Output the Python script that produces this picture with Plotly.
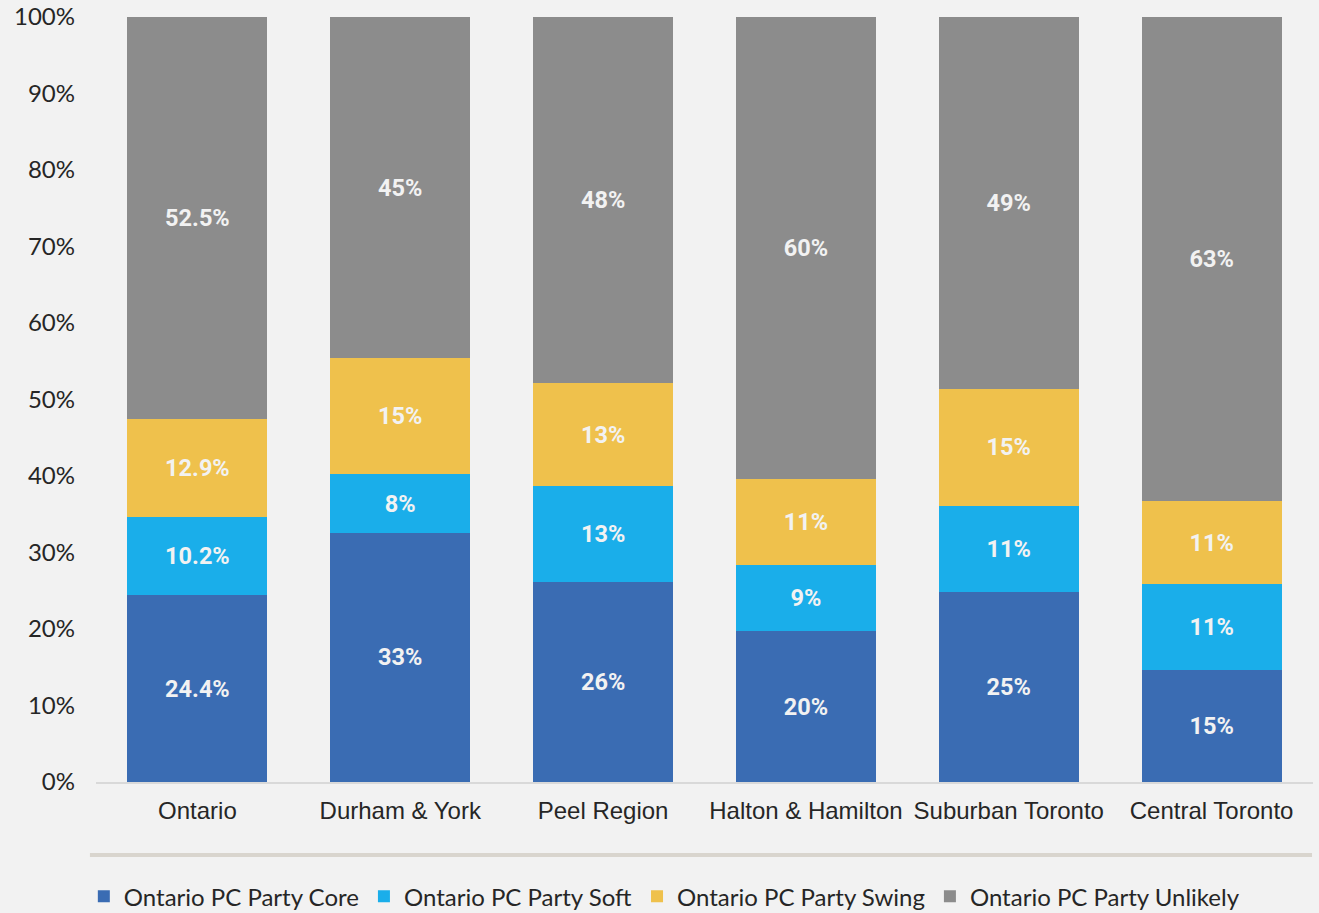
import plotly.graph_objects as go

regions = ["Ontario", "Durham & York", "Peel Region", "Halton & Hamilton",
           "Suburban Toronto", "Central Toronto"]

core = [24.4, 32.6, 26.1, 19.7, 24.8, 14.6]
soft = [10.2, 7.6, 12.6, 8.7, 11.3, 11.3]
swing = [12.9, 15.2, 13.4, 11.2, 15.3, 10.8]
unlikely = [52.5, 44.6, 47.9, 60.4, 48.6, 63.3]

core_lbl = ["24.4%", "33%", "26%", "20%", "25%", "15%"]
soft_lbl = ["10.2%", "8%", "13%", "9%", "11%", "11%"]
swing_lbl = ["12.9%", "15%", "13%", "11%", "15%", "11%"]
unlikely_lbl = ["52.5%", "45%", "48%", "60%", "49%", "63%"]

y_ticks = [0, 10, 20, 30, 40, 50, 60, 70, 80, 90, 100]

series = [
    ("Ontario PC Party Core", core, core_lbl, "#3A6CB3"),
    ("Ontario PC Party Soft", soft, soft_lbl, "#1AAEEA"),
    ("Ontario PC Party Swing", swing, swing_lbl, "#EFC14C"),
    ("Ontario PC Party Unlikely", unlikely, unlikely_lbl, "#8C8C8C"),
]

fig = go.Figure()
for name, vals, lbls, color in series:
    fig.add_trace(go.Bar(
        name=name, x=regions, y=vals, text=lbls,
        marker=dict(color=color, line=dict(width=0)),
        textposition="inside", insidetextanchor="middle",
        textfont=dict(family="Roboto", size=23.5, color="#F2F2F2", weight="bold"),
        textangle=0,
    ))

fig.update_layout(
    barmode="stack",
    bargap=0.31,
    width=1319, height=913,
    paper_bgcolor="#F2F2F2", plot_bgcolor="#F2F2F2",
    margin=dict(l=96, r=6, t=17, b=131, autoexpand=False),
    uniformtext=dict(mode=False),
    legend=dict(
        orientation="h", x=-0.01, y=-0.150, xanchor="left", yanchor="middle",
        traceorder="normal",
        font=dict(family="Lato", size=24, color="#262626"),
        itemwidth=30,
        bgcolor="rgba(0,0,0,0)",
    ),
    shapes=[dict(type="line", xref="paper", yref="paper",
                 x0=-0.005, x1=0.9992, y0=-0.0954, y1=-0.0954,
                 line=dict(color="#D9D5CE", width=4))],
)

fig.update_xaxes(
    showline=True, linecolor="#D9D9D9", linewidth=2,
    tickfont=dict(family="Liberation Sans", size=24, color="#262626"),
    ticks="", showgrid=False, ticklabelstandoff=6,
)
fig.update_yaxes(
    range=[0, 100], tickvals=y_ticks, ticktext=[f"{v}%" for v in y_ticks],
    showgrid=False, zeroline=False, ticks="", ticklabelstandoff=20,
    tickfont=dict(family="Lato", size=24, color="#262626"),
)

fig.write_html("out.html", config={"displayModeBar": False},
               post_script="document.body.style.margin='0';")
